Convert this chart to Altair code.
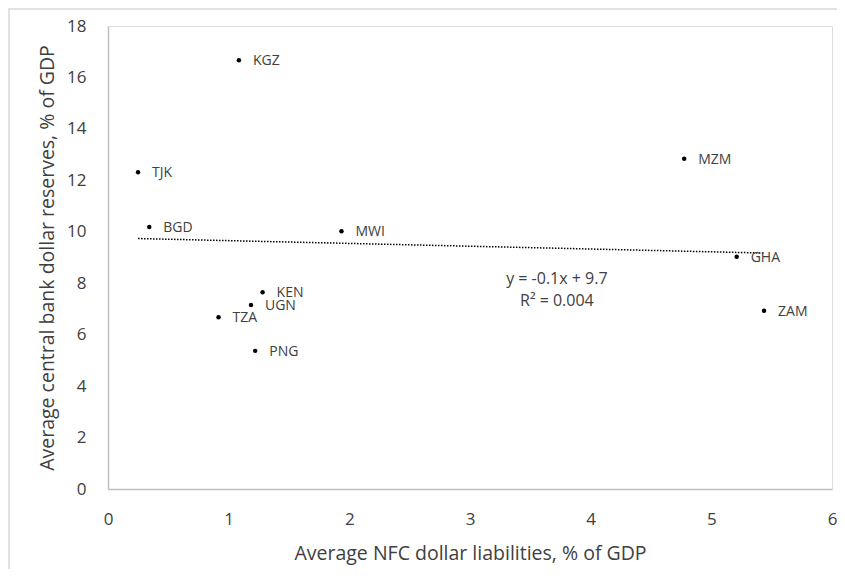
import altair as alt
import pandas as pd

countries = ["KGZ", "TJK", "BGD", "MWI", "KEN", "UGN", "TZA", "PNG", "MZM", "GHA", "ZAM"]
nfc_liab = [1.085, 0.249, 0.342, 1.935, 1.281, 1.185, 0.916, 1.220, 4.775, 5.210, 5.437]
cb_reserves = [16.67, 12.31, 10.19, 10.02, 7.65, 7.15, 6.68, 5.37, 12.84, 9.03, 6.93]

eq_text = ["y = -0.1x + 9.7", "R² = 0.004"]
eq_x = [3.72, 3.72]
eq_y = [8.16, 7.30]

df = pd.DataFrame({"country": countries, "x": nfc_liab, "y": cb_reserves})
eq = pd.DataFrame({"t": eq_text, "x": eq_x, "y": eq_y})

FONT = "Open Sans"
TXT = "#404040"

xs = alt.Scale(domain=[0, 6], nice=False)
ys = alt.Scale(domain=[0, 18], nice=False)

xenc = alt.X("x:Q", scale=xs, title="Average NFC dollar liabilities, % of GDP",
             axis=alt.Axis(values=[0, 1, 2, 3, 4, 5, 6], format="d", ticks=False, grid=False,
                           labelFlush=False, labelOverlap=False,
                           domainColor="#bfbfbf", domainWidth=1.5, labelPadding=22,
                           labelFontSize=17, labelColor=TXT, labelFont=FONT,
                           titleFontSize=19.5, titleFont=FONT, titleColor=TXT,
                           titleFontWeight="normal", titlePadding=17))
yenc = alt.Y("y:Q", scale=ys, title="Average central bank dollar reserves, % of GDP",
             axis=alt.Axis(values=list(range(0, 19, 2)), format="d", ticks=False, grid=False,
                           labelFlush=False, labelOverlap=False,
                           domainColor="#bfbfbf", domainWidth=1.5, labelPadding=22,
                           labelFontSize=17, labelColor=TXT, labelFont=FONT,
                           titleFontSize=19.5, titleFont=FONT, titleColor=TXT,
                           titleFontWeight="normal", titlePadding=9))

frame = alt.Chart(pd.DataFrame({"a": [0]})).mark_rect(
    fill=None, stroke="#d9d9d9", strokeWidth=1.5, clip=False
).encode(x=alt.value(-99), x2=alt.value(760), y=alt.value(-17), y2=alt.value(620))

base = alt.Chart(df)

points = base.mark_circle(size=20, color="black", opacity=1).encode(x=xenc, y=yenc)

labels = base.mark_text(align="left", baseline="middle", dx=14, dy=1,
                        fontSize=14, font=FONT, color=TXT).encode(
    x=alt.X("x:Q", scale=xs), y=alt.Y("y:Q", scale=ys), text="country:N")

trend = base.transform_regression("x", "y").mark_line(
    color="black", strokeWidth=1.5, strokeDash=[1.5, 1.5]
).encode(x=alt.X("x:Q", scale=xs), y=alt.Y("y:Q", scale=ys))

eqs = alt.Chart(eq).mark_text(align="center", baseline="middle", fontSize=16,
                              font=FONT, color=TXT).encode(
    x=alt.X("x:Q", scale=xs), y=alt.Y("y:Q", scale=ys), text="t:N")

chart = alt.layer(frame, trend, points, labels, eqs).properties(
    width=724, height=463,
    autosize=alt.AutoSizeParams(type="none"),
    padding={"left": 100, "top": 18, "right": 5, "bottom": 80},
).configure_view(stroke=None).configure(background="white")

chart.save("out.html", embed_options={"renderer": "svg", "actions": False})
